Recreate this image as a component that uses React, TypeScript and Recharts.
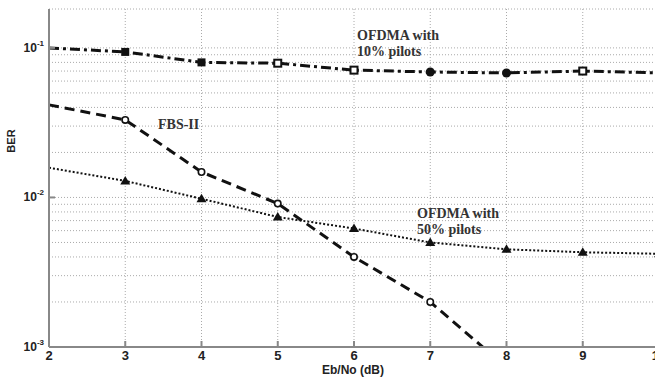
import React from 'react';
import { LineChart, Line, XAxis, YAxis, CartesianGrid } from 'recharts';

const ebno = [2, 3, 4, 5, 6, 7, 8, 9, 10];
const ber10 = [0.1, 0.094, 0.08, 0.079, 0.071, 0.069, 0.068, 0.07, 0.068];
const berFbs = [0.0416, 0.033, 0.0148, 0.0091, 0.004, 0.002, 0.00073, null, null];
const ber50 = [0.0158, 0.0129, 0.0098, 0.0074, 0.0062, 0.005, 0.0045, 0.0043, 0.0042];
const xTicks = [2, 3, 4, 5, 6, 7, 8, 9, 10];
const yTicks = [0.001, 0.002, 0.003, 0.004, 0.005, 0.006, 0.007, 0.008, 0.009, 0.01, 0.02, 0.03, 0.04, 0.05, 0.06, 0.07, 0.08, 0.09, 0.1];
const majorTicks = [0.001, 0.01, 0.1];
const majorExp = ['-3', '-2', '-1'];
const marker10 = ['', 'fsq', 'fsq', 'osq', 'osq', 'fci', 'fci', 'osq', ''];

const data = ebno.map((x, i) => ({ x, a: ber10[i], b: berFbs[i], c: ber50[i] }));

const INK = '#111';

const XTick = (props: any) => {
  const { x, y, payload } = props;
  return (
    <g>
      <line x1={x} x2={x} y1={y} y2={y - 6} stroke="#888" strokeWidth={2} />
      <text x={x} y={y + 13} textAnchor="middle" fontFamily="Liberation Sans, Arial" fontWeight="bold" fontSize={13} fill="#222">
        {payload.value}
      </text>
    </g>
  );
};

const YTick = (props: any) => {
  const { x, y, payload } = props;
  const idx = majorTicks.findIndex((m) => Math.abs(m - payload.value) < 1e-9);
  if (idx < 0) return <g />;
  return (
    <g>
      <line x1={x} x2={x + 6} y1={y} y2={y} stroke="#888" strokeWidth={2} />
      <text x={x - 5} y={y + 4} textAnchor="end" fontFamily="Liberation Sans, Arial" fontWeight="bold" fontSize={12} fill="#222">
        10
        <tspan dy={-6} fontSize={8}>{majorExp[idx]}</tspan>
      </text>
    </g>
  );
};

const Dot10 = (props: any) => {
  const { cx, cy, index } = props;
  const m = marker10[index];
  if (!m || cx == null || cy == null) return <g key={index} />;
  if (m === 'fsq') return <rect key={index} x={cx - 4} y={cy - 4} width={8} height={8} fill={INK} />;
  if (m === 'osq') return <rect key={index} x={cx - 3.5} y={cy - 3.5} width={7} height={7} fill="#fff" stroke={INK} strokeWidth={2} />;
  return <circle key={index} cx={cx} cy={cy} r={4.5} fill={INK} />;
};

const DotFbs = (props: any) => {
  const { cx, cy, index } = props;
  if (index === 0 || cx == null || cy == null || props.value == null) return <g key={index} />;
  return <circle key={index} cx={cx} cy={cy} r={3.2} fill="#fff" stroke={INK} strokeWidth={1.6} />;
};

const Dot50 = (props: any) => {
  const { cx, cy, index } = props;
  if (index === 0 || cx == null || cy == null) return <g key={index} />;
  return <path key={index} d={`M${cx},${cy - 5} L${cx + 5},${cy + 3.5} L${cx - 5},${cy + 3.5} Z`} fill={INK} />;
};

const serif = 'Liberation Serif, DejaVu Serif, serif';

export default function App() {
  return (
    <div style={{ position: 'absolute', left: 0, top: 0, width: 655, height: 379, overflow: 'hidden', background: '#fff' }}>
      <LineChart width={670} height={379} data={data} margin={{ top: 9, right: 11, left: 0, bottom: 0 }}>
        <CartesianGrid stroke="#aaa" strokeDasharray="1 2" />
        <XAxis
          dataKey="x"
          type="number"
          domain={[2, 10]}
          ticks={xTicks}
          height={32}
          tickSize={0}
          tickMargin={0}
          tickLine={false}
          tick={<XTick />}
          axisLine={{ stroke: '#888', strokeWidth: 2 }}
          interval={0}
        />
        <YAxis
          scale="log"
          type="number"
          domain={[0.001, 0.182]}
          allowDataOverflow
          ticks={yTicks}
          width={49}
          tickSize={0}
          tickMargin={0}
          tickLine={false}
          tick={<YTick />}
          axisLine={{ stroke: '#888', strokeWidth: 2 }}
          interval={0}
        />
        <Line dataKey="a" stroke={INK} strokeWidth={3} strokeDasharray="10 4 3 4" dot={<Dot10 />} isAnimationActive={false} />
        <Line dataKey="b" stroke={INK} strokeWidth={3} strokeDasharray="10 6" dot={<DotFbs />} isAnimationActive={false} />
        <Line dataKey="c" stroke={INK} strokeWidth={2} strokeDasharray="2 2" dot={<Dot50 />} isAnimationActive={false} />
      </LineChart>
      <svg width={655} height={379} style={{ position: 'absolute', left: 0, top: 0, pointerEvents: 'none' }}>
        <text x={357} y={40} fontFamily={serif} fontWeight="bold" fontSize={14} fill="#333">OFDMA with</text>
        <text x={357} y={56} fontFamily={serif} fontWeight="bold" fontSize={14} fill="#333">10% pilots</text>
        <text x={158} y={129} fontFamily={serif} fontWeight="bold" fontSize={14} fill="#333">FBS-II</text>
        <text x={417} y={218} fontFamily={serif} fontWeight="bold" fontSize={14} fill="#333">OFDMA with</text>
        <text x={417} y={234} fontFamily={serif} fontWeight="bold" fontSize={14} fill="#333">50% pilots</text>
        <text x={353} y={374} textAnchor="middle" fontFamily="Liberation Sans, Arial" fontWeight="bold" fontSize={12} fill="#222">Eb/No (dB)</text>
        <text x={15} y={141} textAnchor="middle" transform="rotate(-90 15 141)" fontFamily="Liberation Sans, Arial" fontWeight="bold" fontSize={11} fill="#222">BER</text>
      </svg>
    </div>
  );
}
